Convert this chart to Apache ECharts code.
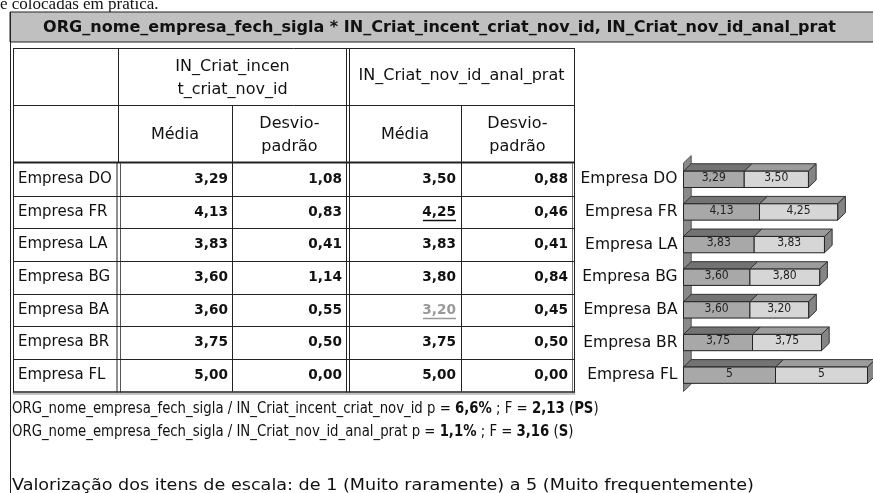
<!DOCTYPE html>
<html>
<head>
<meta charset="utf-8">
<script src="https://cdn.jsdelivr.net/npm/echarts@6/dist/echarts.min.js"></script>
<style>
  html, body { margin: 0; padding: 0; background: #fff; }
  #c { width: 873px; height: 493px; }
</style>
</head>
<body>
<div id="c"></div>
<script>
// ---- data ----
const companies = ['Empresa DO', 'Empresa FR', 'Empresa LA', 'Empresa BG', 'Empresa BA', 'Empresa BR', 'Empresa FL'];
const meanIncent = [3.29, 4.13, 3.83, 3.60, 3.60, 3.75, 5.00];
const sdIncent   = [1.08, 0.83, 0.41, 1.14, 0.55, 0.50, 0.00];
const meanAnal   = [3.50, 4.25, 3.83, 3.80, 3.20, 3.75, 5.00];
const sdAnal     = [0.88, 0.46, 0.41, 0.84, 0.45, 0.50, 0.00];
// highest / lowest mean flags for the second measure
const analFlags  = ['', 'high', '', '', 'low', '', ''];

const titleText = 'ORG_nome_empresa_fech_sigla * IN_Criat_incent_criat_nov_id, IN_Criat_nov_id_anal_prat';
const colHeadA = ['IN_Criat_incen', 't_criat_nov_id'];
const colHeadB = 'IN_Criat_nov_id_anal_prat';
const subHeads = ['Média', 'Desvio-\npadrão', 'Média', 'Desvio-\npadrão'];
const noteLines = [
  { pre: 'ORG_nome_empresa_fech_sigla / IN_Criat_incent_criat_nov_id p = ', p: '6,6%', mid: ' ; F = ', f: '2,13', tag: 'PS' },
  { pre: 'ORG_nome_empresa_fech_sigla / IN_Criat_nov_id_anal_prat p = ', p: '1,1%', mid: ' ; F = ', f: '3,16', tag: 'S' }
];
const scaleNote = 'Valorização dos itens de escala: de 1 (Muito raramente) a 5 (Muito frequentemente)';
const leadText = 'e colocadas em prática.';

// ---- helpers ----
const fmt2 = v => v.toFixed(2).replace('.', ',');
const fmtBar = v => Number.isInteger(v) ? String(v) : fmt2(v);

const FONT = '"DejaVu Sans", Verdana, sans-serif';
const COND = '"DejaVu Sans Condensed", "DejaVu Sans", sans-serif';

// table geometry
const rowTop = 163, rowH = 32.64;
const rowY = companies.map((_, i) => rowTop + i * rowH);
const tableBottom = rowTop + companies.length * rowH;

const g = [];
function line(x1, y1, x2, y2, color, w) {
  g.push({ type: 'line', silent: true, shape: { x1, y1, x2, y2 }, style: { stroke: color || '#111', lineWidth: w || 1 } });
}
function text(x, y, t, opt, extra) {
  g.push(Object.assign({ type: 'text', silent: true, x, y, style: Object.assign({ text: t, font: '15px ' + FONT, fill: '#111', align: 'center', verticalAlign: 'middle' }, opt || {}) }, extra || {}));
}

// leading sentence, cut off at the top edge
text(0, 4.5, leadText, { font: '17px "Liberation Serif", "Times New Roman", serif', align: 'left' });

// outer frame and title band
g.push({ type: 'rect', silent: true, shape: { x: 10, y: 12, width: 870, height: 30 }, style: { fill: '#c0c0c0', stroke: '#222', lineWidth: 1 } });
line(10.5, 12, 10.5, 493, '#222', 1);
text(439.5, 27.5, titleText, { font: 'bold 15.5px ' + FONT }, { scaleX: 1.035 });

// header cells
line(13, 48.5, 574, 48.5, '#222', 1);
line(13, 105.5, 574, 105.5, '#222', 1);
line(13, 162.5, 575, 162.5, '#222', 2);
line(13.5, 48, 13.5, tableBottom + 1, '#222', 1);
line(118.5, 48, 118.5, 163, '#222', 1);
line(232.5, 105, 232.5, 163, '#222', 1);
line(346.5, 48, 346.5, tableBottom + 1, '#222', 1);
line(349.5, 48, 349.5, tableBottom + 1, '#222', 1);
line(461.5, 105, 461.5, 163, '#222', 1);
line(574.5, 48, 574.5, tableBottom + 1, '#222', 1);

const HF = '16px ' + FONT;
text((118 + 347) / 2, 67, colHeadA[0], { font: HF });
text((118 + 347) / 2, 90, colHeadA[1], { font: HF });
text((349 + 574) / 2, 76, colHeadB, { font: HF });
const subCenters = [(118 + 232) / 2, (232 + 347) / 2, (349 + 461) / 2, (461 + 574) / 2];
subHeads.forEach((t, k) => text(subCenters[k], 135, t, { font: HF, lineHeight: 23 }));

// data rows
line(117, 163, 117, tableBottom + 1, '#222', 1);
line(120.5, 163, 120.5, tableBottom + 1, '#555', 1);
line(232.5, 163, 232.5, tableBottom, '#222', 1);
line(461.5, 163, 461.5, tableBottom, '#222', 1);
line(572.5, 163, 572.5, tableBottom + 1, '#777', 1);
const NF = 'bold 14.5px ' + FONT;
const NS = { scaleX: 0.94 };
companies.forEach((name, i) => {
  const y0 = rowY[i];
  if (i > 0) line(13, Math.round(y0) + 0.5, 575, Math.round(y0) + 0.5, '#222', 1);
  const cy = y0 + rowH / 2;
  text(18, cy, name, { align: 'left' });
  text(228, cy, fmt2(meanIncent[i]), { align: 'right', font: NF }, NS);
  text(342, cy, fmt2(sdIncent[i]), { align: 'right', font: NF }, NS);
  const flag = analFlags[i];
  const c3 = flag === 'low' ? '#999' : '#111';
  text(456, cy, fmt2(meanAnal[i]), { align: 'right', font: NF, fill: c3 }, NS);
  if (flag) line(423, cy + 8.5, 456, cy + 8.5, c3, 1.5);
  text(568, cy, fmt2(sdAnal[i]), { align: 'right', font: NF }, NS);
});
line(13, tableBottom + 0.5, 575, tableBottom + 0.5, '#222', 1.5);
line(13, tableBottom + 2.5, 575, tableBottom + 2.5, '#888', 1);

// notes under the table
noteLines.forEach((n, k) => {
  g.push({
    type: 'text', silent: true, x: 12, y: 409 + k * 23, scaleX: 0.83,
    style: {
      text: '{r|' + n.pre + '}{b|' + n.p + '}{r|' + n.mid + '}{b|' + n.f + '}{r| (}{b|' + n.tag + '}{r|)}',
      verticalAlign: 'middle', align: 'left',
      rich: {
        r: { font: '16px ' + FONT, fill: '#111' },
        b: { font: 'bold 16px ' + FONT, fill: '#111' }
      }
    }
  });
});
g.push({ type: 'text', silent: true, x: 12, y: 486, scaleX: 1.1,
  style: { text: scaleNote, font: '16px ' + FONT, fill: '#111', align: 'left', verticalAlign: 'middle' } });

// ---- 3D stacked bars ----
const DX = 7.7, DY = 7.4;
const seriesColors = [
  { front: '#a8a8a8', top: '#737373', side: '#666666' },
  { front: '#d6d6d6', top: '#9c9c9c', side: '#858585' }
];
function barRenderer(k) {
  return function (params, api) {
    const s = api.value(0), e = api.value(1), c = api.value(2);
    const p0 = api.coord([s, c]), p1 = api.coord([e, c]);
    const band = api.size([0, 1])[1];
    const h = band * 0.5;
    const x0 = p0[0], x1 = p1[0];
    const yt = p0[1] - h / 2, yb = p0[1] + h / 2;
    const col = seriesColors[k];
    const children = [
      { type: 'polygon', shape: { points: [[x0, yt], [x1, yt], [x1 + DX, yt - DY], [x0 + DX, yt - DY]] },
        style: { fill: col.top, stroke: '#333', lineWidth: 1 } },
      { type: 'rect', shape: { x: x0, y: yt, width: x1 - x0, height: h },
        style: { fill: col.front, stroke: '#222', lineWidth: 1 } },
      { type: 'text', x: (x0 + x1) / 2, y: p0[1] - 1.5,
        style: { text: fmtBar(e - s), font: '12px ' + COND, fill: '#222', align: 'center', verticalAlign: 'middle' } }
    ];
    if (k === 1) {
      children.splice(1, 0, { type: 'polygon', shape: { points: [[x1, yt], [x1 + DX, yt - DY], [x1 + DX, yb - DY], [x1, yb]] },
        style: { fill: col.side, stroke: '#333', lineWidth: 1 } });
    }
    return { type: 'group', children };
  };
}
function wallRenderer(params, api) {
  const first = api.coord([0, 0]), last = api.coord([0, companies.length - 1]);
  const band = api.size([0, 1])[1];
  const top = first[1] - band / 2, bottom = last[1] + band / 2;
  const x = first[0];
  return {
    type: 'polygon',
    shape: { points: [[x, top], [x + DX, top - DY], [x + DX, bottom - DY], [x, bottom]] },
    style: { fill: '#8a8a8a', stroke: '#555', lineWidth: 1 }
  };
}

const incentData = companies.map((_, i) => [0, meanIncent[i], i]);
const analData = companies.map((_, i) => [meanIncent[i], meanIncent[i] + meanAnal[i], i]);

const chart = echarts.init(document.getElementById('c'));
chart.setOption({
  animation: false,
  grid: { left: 683.5, top: 163, width: 184, height: 228.5 },
  xAxis: { type: 'value', min: 0, max: 10, show: false },
  yAxis: {
    type: 'category', data: companies, inverse: true,
    axisLine: { show: false }, axisTick: { show: false }, splitLine: { show: false },
    axisLabel: { margin: 6, fontFamily: FONT, fontSize: 15.5, color: '#111' }
  },
  series: [
    { type: 'custom', renderItem: wallRenderer, data: [[0, 0, 0]], encode: { x: 0, y: 2 }, silent: true, z: 1 },
    { type: 'custom', renderItem: barRenderer(1), data: analData, encode: { x: [0, 1], y: 2 }, silent: true, z: 2 },
    { type: 'custom', renderItem: barRenderer(0), data: incentData, encode: { x: [0, 1], y: 2 }, silent: true, z: 3 }
  ],
  graphic: g
});
</script>
</body>
</html>
